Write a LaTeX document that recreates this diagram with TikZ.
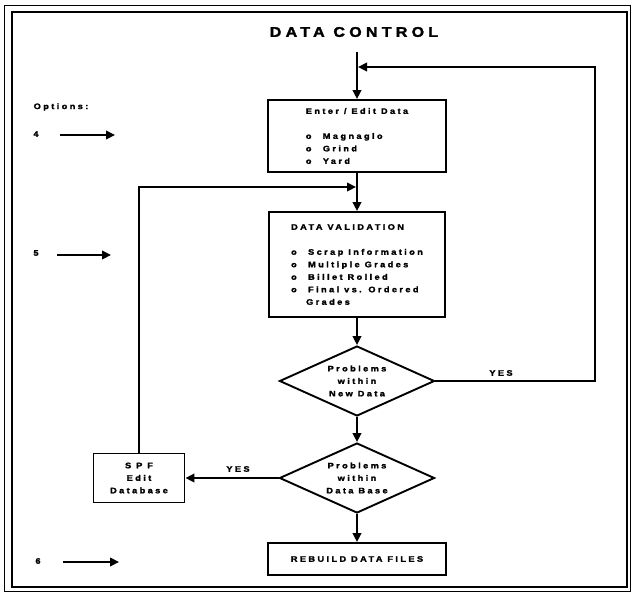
\documentclass[tikz,border=0pt]{standalone}
\usepackage{fontspec}
\setmainfont{Liberation Sans}[LetterSpace=30, FakeStretch=1.15, BoldFeatures={FakeBold=2}]
\usetikzlibrary{shapes.geometric,arrows.meta}
\newcommand{\itm}[1]{\makebox[17pt][l]{o}#1}

\begin{document}
\begin{tikzpicture}[x=1pt, y=-1pt, font=\bfseries\fontsize{8}{12.5}\selectfont,
		box/.style={draw, line width=1.9pt, inner sep=0pt, align=left},
		test/.style={draw, diamond, line width=1.9pt, inner sep=0pt, aspect=2.2, align=center, minimum width=155pt, minimum height=70pt},
		flow/.style={draw, line width=2.5pt, -{Triangle[length=9pt, width=8.5pt]}}]
	\useasboundingbox (0,0) rectangle (633,595);
	\draw[line width=1.5pt] (4.5,5.5) rectangle (630.5,591.5);
	\draw[line width=1.5pt] (12,12) rectangle (627,587);
	\node (title) at (354,32) {\fontsize{14}{16}\selectfont DATA CONTROL};
	\node (opts) at (61,107) {Options:};
	\node (enter) [box, minimum width=178pt, minimum height=72pt] at (357,136) {Enter / Edit Data\\[12.5pt]\itm{Magnaglo}\\\itm{Grind}\\\itm{Yard}};
	\node (valid) [box, minimum width=176pt, minimum height=105pt] at (357,264.5) {DATA VALIDATION\\[12.5pt]\itm{Scrap Information}\\\itm{Multiple Grades}\\\itm{Billet Rolled}\\\itm{Final vs. Ordered}\\\hspace*{15pt}Grades};
	\node (newdata) [test] at (357,381) {Problems\\within\\New Data};
	\node (database) [test] at (357,478) {Problems\\within\\Data Base};
	\node (spf) [box, align=center, minimum width=91pt, minimum height=49pt] at (139,478) {S P F\\Edit\\Database};
	\node (rebuild) [box, minimum width=178pt, minimum height=32pt] at (357,559) {REBUILD DATA FILES};
	\node (yes1) at (501,373) {YES};
	\node (yes2) at (238,469) {YES};
	\node (opt4) at (36,134) {4};
	\node (opt5) at (36,253) {5};
	\node (opt6) at (38,561) {6};
	\coordinate (top) at (357,52);
	\coordinate (in1) at (358,67);
	\coordinate (in2) at (356,187);
	\coordinate (rloop) at (595,67);
	\coordinate (a4s) at (60,135);
	\coordinate (a4e) at (115,135);
	\coordinate (a5s) at (57,255);
	\coordinate (a5e) at (111,255);
	\coordinate (a6s) at (63,562);
	\coordinate (a6e) at (119,562);
	\path[flow] (top) -- (enter.north);
	\path[flow] (enter.south) -- (valid.north);
	\path[flow] (valid.south) -- (newdata.north);
	\path[flow] (newdata.south) -- (database.north);
	\path[flow] (database.south) -- (rebuild.north);
	\path[flow] (newdata.east) -| (rloop) -- (in1);
	\path[flow] (database.west) -- (spf.east);
	\path[flow] (spf.north) |- (in2);
	\path[flow] (a4s) -- (a4e);
	\path[flow] (a5s) -- (a5e);
	\path[flow] (a6s) -- (a6e);
\end{tikzpicture}
\end{document}
